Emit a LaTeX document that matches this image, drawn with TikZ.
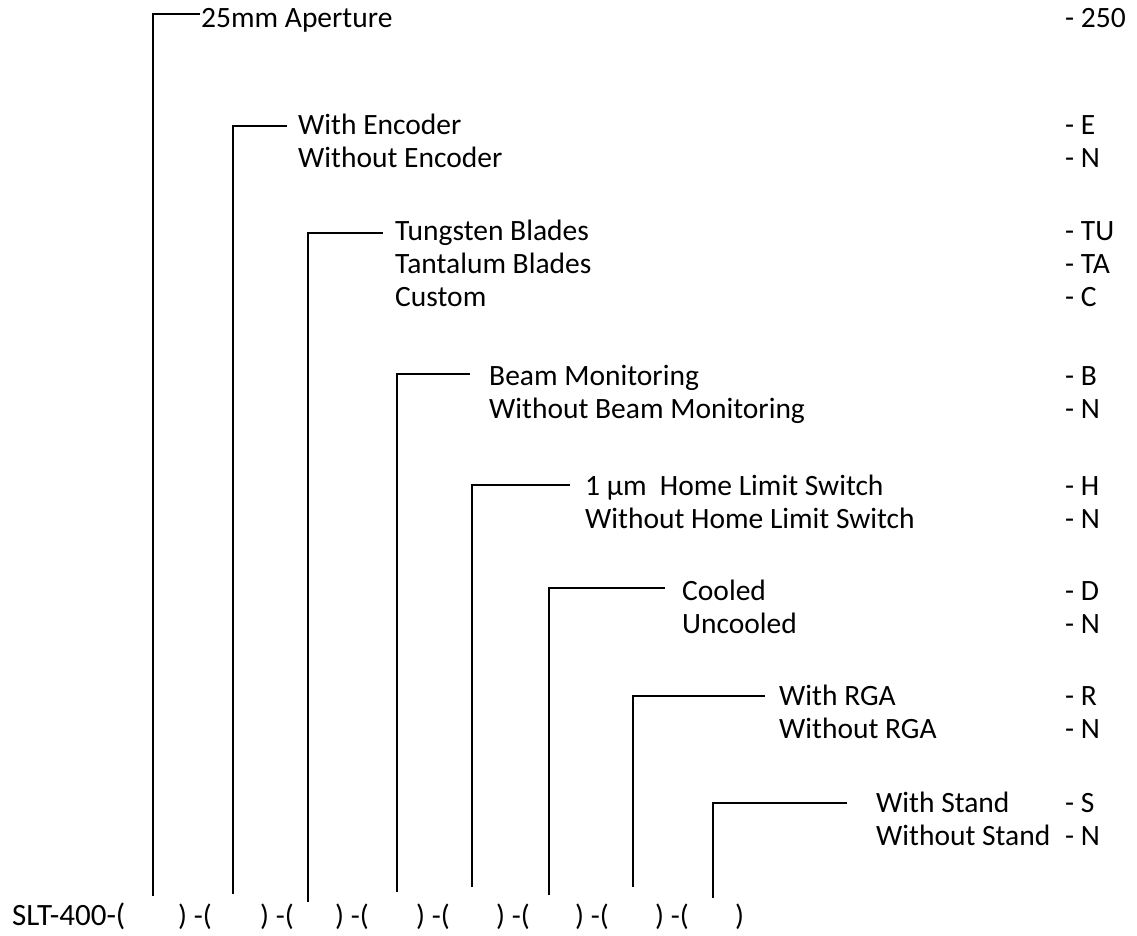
\documentclass[tikz,border=0pt]{standalone}
\usepackage{fontspec}
\setmainfont{Carlito}
\usepackage{tikz}

\begin{document}
\begin{tikzpicture}[
		x=1pt, y=-1pt,
		opt/.style={anchor=base west, inner sep=0pt, font=\fontsize{29.5}{35}\selectfont},
		code/.style={opt},
		part/.style={opt, font=\fontsize{31}{36}\selectfont},
		wire/.style={draw, line width=1.1pt}
	]
	\useasboundingbox (0,0) rectangle (1137,936);

	% Part number
	\node[part] (pn) at (12,925) {SLT-400-(};
	\node[opt] (g1) at (178,925) {) -(};
	\node[opt] (g2) at (260,925) {) -(};
	\node[opt] (g3) at (335,925) {) -(};
	\node[opt] (g4) at (416,925) {) -(};
	\node[opt] (g5) at (496,925) {) -(};
	\node[opt] (g6) at (575,925) {) -(};
	\node[opt] (g7) at (655,925) {) -(};
	\node[opt] (g8) at (735,925) {)};

	% Options and codes
	\node[opt] (aper) at (201,28) {25mm Aperture};
	\node[code] (c250) at (1065,28) {- 250};

	\node[opt] (enc) at (298,135) {With Encoder};
	\node[opt] (noenc) at (298,168) {Without Encoder};
	\node[code] (cE) at (1065,135) {- E};
	\node[code] (cEN) at (1065,168) {- N};

	\node[opt] (tung) at (395,240) {Tungsten Blades};
	\node[opt] (tant) at (395,273) {Tantalum Blades};
	\node[opt] (cust) at (395,306) {Custom};
	\node[code] (cTU) at (1065,240) {- TU};
	\node[code] (cTA) at (1065,273) {- TA};
	\node[code] (cC) at (1065,306) {- C};

	\node[opt] (beam) at (489,385) {Beam Monitoring};
	\node[opt] (nobeam) at (489,418) {Without Beam Monitoring};
	\node[code] (cB) at (1065,385) {- B};
	\node[code] (cBN) at (1065,418) {- N};

	\node[opt] (home) at (585,495) {1 µm~~Home Limit Switch};
	\node[opt] (nohome) at (585,528) {Without Home Limit Switch};
	\node[code] (cH) at (1065,495) {- H};
	\node[code] (cHN) at (1065,528) {- N};

	\node[opt] (cool) at (682,600) {Cooled};
	\node[opt] (uncool) at (682,633) {Uncooled};
	\node[code] (cD) at (1065,600) {- D};
	\node[code] (cDN) at (1065,633) {- N};

	\node[opt] (rga) at (779,705) {With RGA};
	\node[opt] (norga) at (779,738) {Without RGA};
	\node[code] (cR) at (1065,705) {- R};
	\node[code] (cRN) at (1065,738) {- N};

	\node[opt] (stand) at (876,812) {With Stand};
	\node[opt] (nostand) at (876,845) {Without Stand};
	\node[code] (cS) at (1065,812) {- S};
	\node[code] (cSN) at (1065,845) {- N};

	% Bracket ends
	\coordinate (b1) at (153,896); \coordinate (s1) at (200,14);
	\coordinate (b2) at (233,894); \coordinate (s2) at (287,126);
	\coordinate (b3) at (308,902); \coordinate (s3) at (383,233);
	\coordinate (b4) at (397,892); \coordinate (s4) at (470,374);
	\coordinate (b5) at (472,887); \coordinate (s5) at (570,485);
	\coordinate (b6) at (549,895); \coordinate (s6) at (665,588);
	\coordinate (b7) at (633,887); \coordinate (s7) at (765,696);
	\coordinate (b8) at (713,898); \coordinate (s8) at (847,803);

	% Brackets
	\draw[wire] (b1) |- (s1);
	\draw[wire] (b2) |- (s2);
	\draw[wire] (b3) |- (s3);
	\draw[wire] (b4) |- (s4);
	\draw[wire] (b5) |- (s5);
	\draw[wire] (b6) |- (s6);
	\draw[wire] (b7) |- (s7);
	\draw[wire] (b8) |- (s8);

\end{tikzpicture}
\end{document}
